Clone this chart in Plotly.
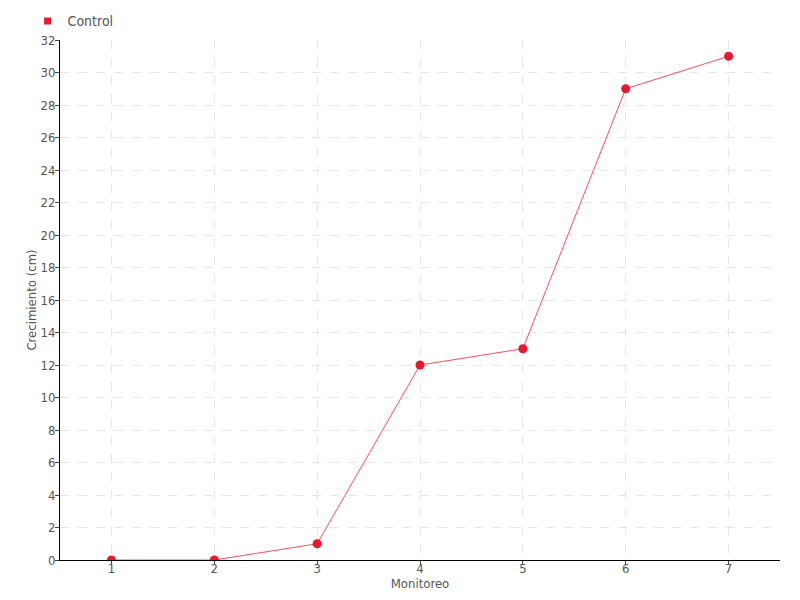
import plotly.graph_objects as go

monitoreo = [1, 2, 3, 4, 5, 6, 7]
control = [0, 0, 1, 12, 13, 29, 31]
y_ticks = list(range(0, 33, 2))

FONT = "DejaVu Sans Condensed, Liberation Sans Narrow, sans-serif"
RED = "#e8192c"

fig = go.Figure()
fig.add_trace(go.Scatter(
    x=monitoreo, y=control, mode="lines+markers", name="Control",
    line=dict(color="#ff4d5e", width=1),
    marker=dict(color=RED, size=9),
    showlegend=False,
))
fig.add_trace(go.Scatter(
    x=[None], y=[None], mode="markers", name="Control",
    marker=dict(color=RED, size=7, symbol="square"),
))

axis_common = dict(
    showline=True, linecolor="black", linewidth=1,
    ticks="outside", tickcolor="#444", ticklen=4,
    showgrid=True, gridcolor="#e6e6e6", griddash="dash", gridwidth=1,
    zeroline=False, automargin=False,
    tickfont=dict(family=FONT, size=13, color="#555"),
)

fig.update_layout(
    width=800, height=600,
    paper_bgcolor="white", plot_bgcolor="white",
    margin=dict(l=52, r=28, t=32, b=48, autoexpand=False),
    font=dict(family=FONT, color="#555", size=13),
    showlegend=True,
    legend=dict(x=-0.045, y=1.005, xanchor="left", yanchor="bottom",
                orientation="h", font=dict(family=FONT, size=14, color="#555"),
                itemwidth=30, bgcolor="rgba(0,0,0,0)"),
    xaxis=dict(range=[0.5, 7.5], tickvals=monitoreo, ticklabelstandoff=-8,
               **axis_common,
               title=dict(text="Monitoreo", standoff=0,
                          font=dict(family=FONT, size=13, color="#555"))),
    yaxis=dict(range=[0, 32], tickvals=y_ticks, ticklabelstandoff=-3,
               **axis_common,
               title=dict(text="Crecimiento (cm)", standoff=0,
                          font=dict(family=FONT, size=13, color="#555"))),
)

fig.write_html("out.html")
